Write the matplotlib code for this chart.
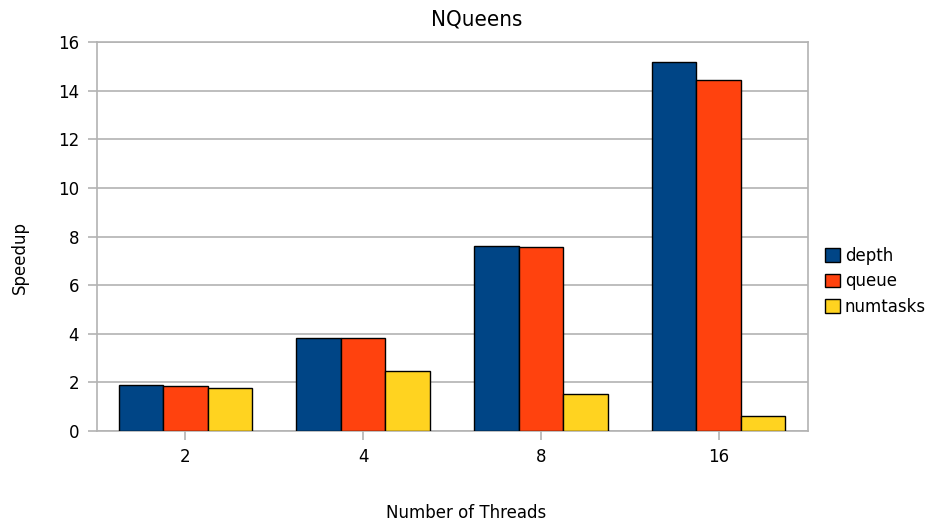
import matplotlib
matplotlib.use("Agg")
import matplotlib.pyplot as plt
import numpy as np

threads = ["2", "4", "8", "16"]
depth = [1.88, 3.81, 7.62, 15.19]
queue = [1.87, 3.81, 7.56, 14.44]
numtasks = [1.75, 2.45, 1.51, 0.62]
series_names = ["depth", "queue", "numtasks"]
colors = ["#004586", "#ff420e", "#ffd320"]

W, H = 927, 524
fig = plt.figure(figsize=(W / 100, H / 100), dpi=100)
ax = fig.add_axes([96.5 / W, 1 - 431 / H, (807.5 - 96.5) / W, (431 - 42) / H])

grey = "#b3b3b3"
x = np.arange(len(threads))
bw = 0.25
for i, (vals, name, c) in enumerate(zip([depth, queue, numtasks], series_names, colors)):
    ax.bar(x + (i - 1) * bw, vals, bw, color=c, edgecolor="black", linewidth=1.0,
           label=name, zorder=3)

ax.set_xlim(-0.5, len(threads) - 0.5)
ax.set_ylim(0, 16)
ax.set_yticks(np.arange(0, 17, 2))
ax.set_xticks(x)
ax.set_xticklabels(threads)
ax.yaxis.grid(True, color=grey, linewidth=1.2, zorder=0)
ax.set_axisbelow(True)
for s in ax.spines.values():
    s.set_color(grey)
    s.set_linewidth(1.2)
ax.tick_params(axis="both", colors=grey, length=6.5, width=1.2, labelsize=12,
               labelcolor="black", pad=6)

fig.text(477 / W, 1 - 20 / H, "NQueens", ha="center", va="center", fontsize=16,
         fontstretch="condensed")
fig.text(466 / W, 1 - 513 / H, "Number of Threads", ha="center", va="center", fontsize=12)
fig.text(20 / W, 1 - 258 / H, "Speedup", ha="center", va="center", fontsize=12,
         rotation=90)

leg = fig.legend(loc="upper left", bbox_to_anchor=(818 / W, 1 - 240 / H), frameon=False,
                 fontsize=12, handlelength=0.9, handleheight=0.9, handletextpad=0.3,
                 labelspacing=0.45, borderaxespad=0)

fig.savefig("out.png", dpi=100)
